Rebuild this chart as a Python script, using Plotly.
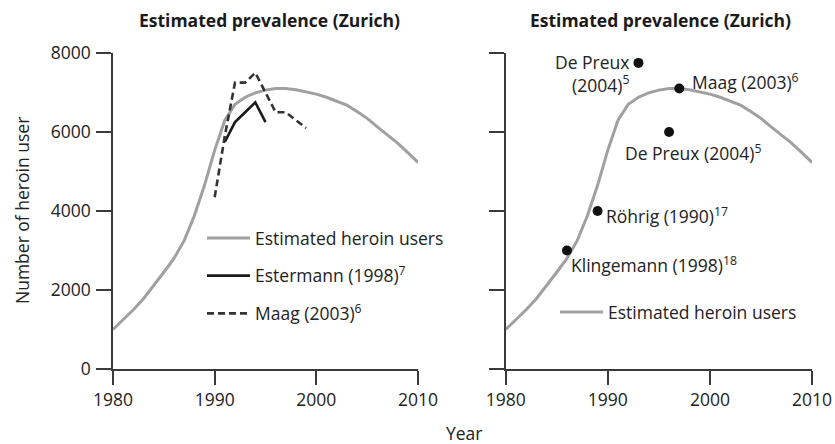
import plotly.graph_objects as go

years = list(range(1980, 2011))
estimated_users = [1000, 1250, 1500, 1780, 2100, 2450, 2800, 3250, 3880, 4650,
                   5540, 6300, 6700, 6880, 6990, 7060, 7100, 7100, 7070, 7020,
                   6960, 6880, 6790, 6680, 6520, 6345, 6130, 5920, 5720, 5480, 5230]

estermann_years = [1991, 1992, 1993, 1994, 1995]
estermann_values = [5750, 6250, 6500, 6750, 6250]

maag_years = [1990, 1991, 1992, 1993, 1994, 1995, 1996, 1997, 1998, 1999]
maag_values = [4350, 5900, 7250, 7250, 7500, 7000, 6500, 6500, 6300, 6100]

point_years = [1993, 1997, 1996, 1989, 1986]
point_values = [7750, 7100, 6000, 4000, 3000]
point_labels = ["De Preux<br>(2004)<sup>5</sup>", "Maag (2003)<sup>6</sup>",
                "De Preux (2004)<sup>5</sup>", "Röhrig (1990)<sup>17</sup>",
                "Klingemann (1998)<sup>18</sup>"]

x_ticks = [1980, 1990, 2000, 2010]
y_ticks = [0, 2000, 4000, 6000, 8000]

FONT = "Open Sans"
FS = 17.5
AX = "#3a3a3a"
GRAY = "#a0a0a0"
TXT = "#222222"

fig = go.Figure()

fig.add_trace(go.Scatter(x=years, y=estimated_users, mode="lines", name="Estimated heroin users",
                         line=dict(color=GRAY, width=3), xaxis="x", yaxis="y",
                         legend="legend", legendgroup="a"))
fig.add_trace(go.Scatter(x=estermann_years, y=estermann_values, mode="lines",
                         name="Estermann (1998)<sup>7</sup>",
                         line=dict(color="#1a1a1a", width=2.6), xaxis="x", yaxis="y",
                         legend="legend", legendgroup="b"))
fig.add_trace(go.Scatter(x=maag_years, y=maag_values, mode="lines",
                         name="Maag (2003)<sup>6</sup>",
                         line=dict(color="#333333", width=2.6, dash="7px,4px"), xaxis="x", yaxis="y",
                         legend="legend", legendgroup="c"))

fig.add_trace(go.Scatter(x=years, y=estimated_users, mode="lines", name="Estimated heroin users",
                         line=dict(color=GRAY, width=3), xaxis="x2", yaxis="y2",
                         legend="legend2"))
fig.add_trace(go.Scatter(x=point_years, y=point_values, mode="markers", showlegend=False,
                         marker=dict(color="#111111", size=10), xaxis="x2", yaxis="y2"))

# point labels: (xshift, yshift, xanchor, yanchor)
offsets = [(-7, -11, "right", "middle"), (11, 7, "left", "middle"), (24, -6, "center", "top"),
           (6, -4, "left", "middle"), (2, 1, "left", "top")]
for xv, yv, txt, (dx, dy, xa, ya) in zip(point_years, point_values, point_labels, offsets):
    fig.add_annotation(x=xv, y=yv, xref="x2", yref="y2", text=txt, showarrow=False,
                       xanchor=xa, yanchor=ya, xshift=dx, yshift=dy, align="right",
                       font=dict(family=FONT, size=FS, color=TXT))

axis_common = dict(range=[1980, 2010], tickvals=x_ticks, ticks="outside", ticklen=14,
                   tickwidth=1.5, tickcolor=AX, showline=True, linecolor=AX, linewidth=1.5,
                   showgrid=False, zeroline=False, automargin=False,
                   tickfont=dict(family=FONT, size=FS, color=TXT))
yaxis_common = dict(range=[0, 8000], tickvals=y_ticks, ticks="outside", ticklen=15,
                    tickwidth=1.5, tickcolor=AX, showline=True, linecolor=AX, linewidth=1.5,
                    showgrid=False, zeroline=False, automargin=False, ticklabelstandoff=2,
                    tickfont=dict(family=FONT, size=FS, color=TXT))

W, H = 835, 444
fig.update_layout(
    width=W, height=H, margin=dict(l=0, r=0, t=0, b=0, pad=0, autoexpand=False),
    paper_bgcolor="white", plot_bgcolor="white",
    font=dict(family=FONT, size=FS, color=TXT),
    xaxis=dict(domain=[113 / W, 418 / W], anchor="y", **axis_common),
    yaxis=dict(domain=[75 / H, 391 / H], anchor="x", **yaxis_common),
    xaxis2=dict(domain=[505.7 / W, 812 / W], anchor="y2", **axis_common),
    yaxis2=dict(domain=[75 / H, 391 / H], anchor="x2", showticklabels=False, **yaxis_common),
    legend=dict(x=202 / W, y=1 - 220 / H, xanchor="left", yanchor="top", bgcolor="rgba(0,0,0,0)",
                tracegroupgap=12, itemwidth=43, font=dict(family=FONT, size=FS, color=TXT)),
    legend2=dict(x=555 / W, y=1 - 294 / H, xanchor="left", yanchor="top", bgcolor="rgba(0,0,0,0)",
                 itemwidth=43, font=dict(family=FONT, size=FS, color=TXT)),
    showlegend=True,
)

fig.add_annotation(x=269 / W, y=1 - 20 / H, xref="paper", yref="paper", showarrow=False,
                   text="<b>Estimated prevalence (Zurich)</b>", xanchor="center", yanchor="middle",
                   font=dict(family=FONT, size=17.5, color="#1a1a1a"))
fig.add_annotation(x=660 / W, y=1 - 20 / H, xref="paper", yref="paper", showarrow=False,
                   text="<b>Estimated prevalence (Zurich)</b>", xanchor="center", yanchor="middle",
                   font=dict(family=FONT, size=17.5, color="#1a1a1a"))
fig.add_annotation(x=22 / W, y=1 - 211 / H, xref="paper", yref="paper", showarrow=False,
                   text="Number of heroin user", textangle=-90, xanchor="center", yanchor="middle",
                   font=dict(family=FONT, size=FS, color=TXT))
fig.add_annotation(x=465 / W, y=1 - 433 / H, xref="paper", yref="paper", showarrow=False,
                   text="Year", xanchor="center", yanchor="middle",
                   font=dict(family=FONT, size=FS, color=TXT))

fig.write_html("out.html", config={"displayModeBar": False},
               post_script="document.body.style.margin='0';document.body.style.overflow='hidden';")
